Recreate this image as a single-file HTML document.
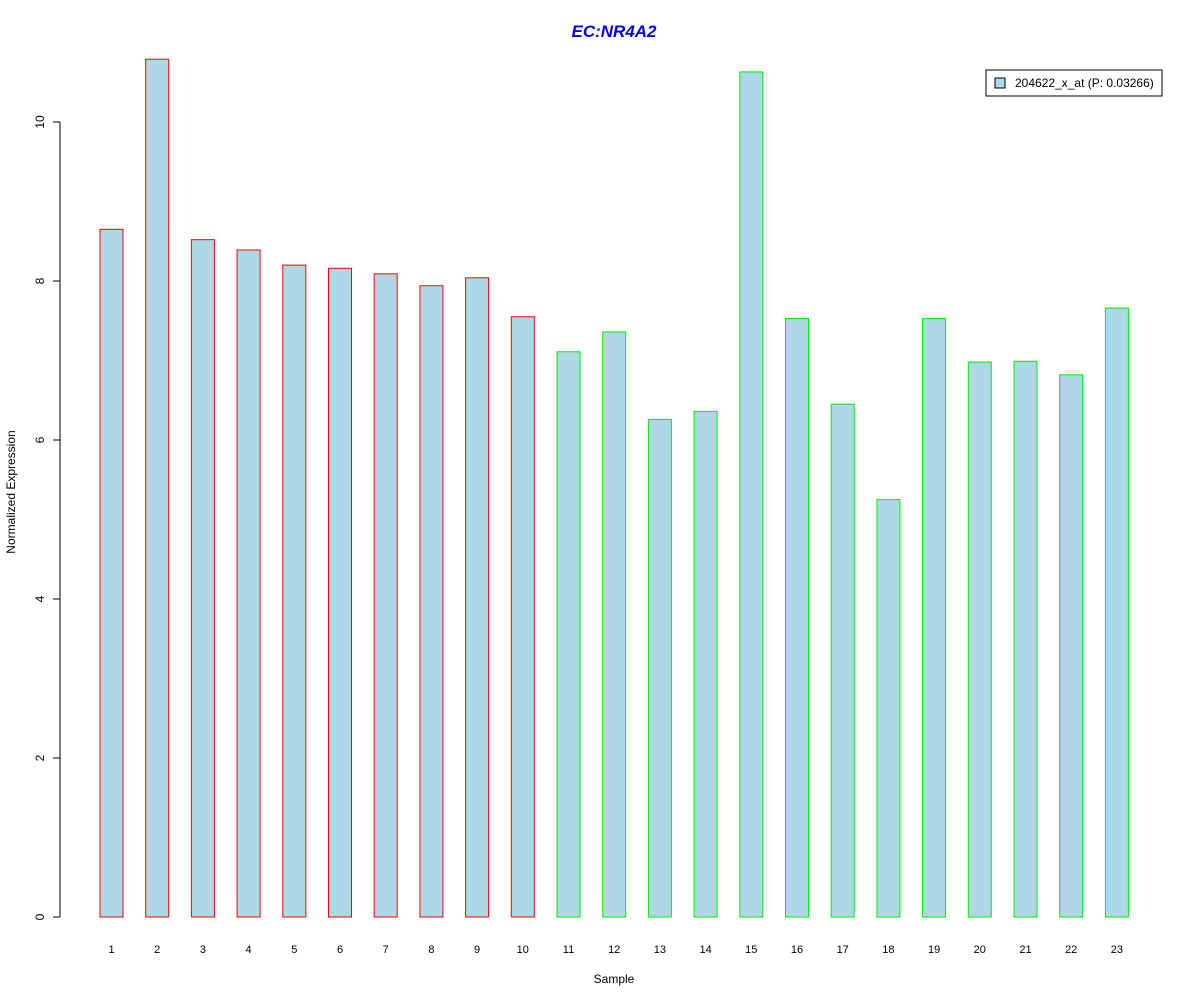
<!DOCTYPE html>
<html><head><meta charset="utf-8"><style>
body{margin:0;background:#fff}
svg text{font-family:"Liberation Sans",Arial,sans-serif}
</style></head><body>
<svg id="chart" width="1200" height="1000" xmlns="http://www.w3.org/2000/svg">
<rect width="1200" height="1000" fill="#fff"/>
<text x="614" y="37" text-anchor="middle" font-size="17" font-weight="bold" font-style="italic" fill="#0000ff">EC:NR4A2</text>
<text x="614" y="983" text-anchor="middle" font-size="12">Sample</text>
<text transform="translate(15,492) rotate(-90)" text-anchor="middle" font-size="12">Normalized Expression</text>
<g id="axis"></g><g id="bars"></g><g id="xlabels"></g>
<g>
<rect x="986" y="70" width="176" height="26" fill="#fff" stroke="#000"/>
<rect x="995" y="78" width="10" height="10" fill="#add8e6" stroke="#000"/>
<text x="1015" y="87" font-size="12">204622_x_at (P: 0.03266)</text>
</g>
</svg>
<script>
const categories=["1","2","3","4","5","6","7","8","9","10","11","12","13","14","15","16","17","18","19","20","21","22","23"];
const values=[8.65,10.79,8.52,8.39,8.20,8.16,8.09,7.94,8.04,7.55,7.11,7.36,6.26,6.36,10.63,7.53,6.45,5.25,7.53,6.98,6.99,6.82,7.66];
const groups=["r","r","r","r","r","r","r","r","r","r","g","g","g","g","g","g","g","g","g","g","g","g","g"];
const yTicks=[0,2,4,6,8,10];
const NS="http://www.w3.org/2000/svg";
const y=v=>917-v*79.5;
const x=i=>111.5+i*45.7;
function mk(t,a,p){const e=document.createElementNS(NS,t);for(const k in a)e.setAttribute(k,a[k]);p.appendChild(e);return e;}
const ax=document.getElementById('axis');
const al=mk('line',{x1:60,x2:60,y1:y(0),y2:y(10),stroke:'#000'},ax);


yTicks.forEach(t=>{
 const l=mk('line',{x1:53,x2:60,y1:y(t),y2:y(t),stroke:'#000'},ax);
 
 
 const tx=mk('text',{transform:`translate(44,${y(t)}) rotate(-90)`,'text-anchor':'middle','font-size':12},ax);
 tx.textContent=t;
 
 
});
const bg=document.getElementById('bars'),xg=document.getElementById('xlabels');
values.forEach((v,i)=>{
 const r=mk('rect',{x:x(i)-11.5,y:y(v),width:23,height:y(0)-y(v),fill:'#add8e6',stroke:groups[i]==='r'?'#ff0000':'#00ee00'},bg);
 
 
 const t=mk('text',{x:x(i),y:953,'text-anchor':'middle','font-size':11},xg);
 t.textContent=categories[i];
 
 
});
</script>
</body></html>
